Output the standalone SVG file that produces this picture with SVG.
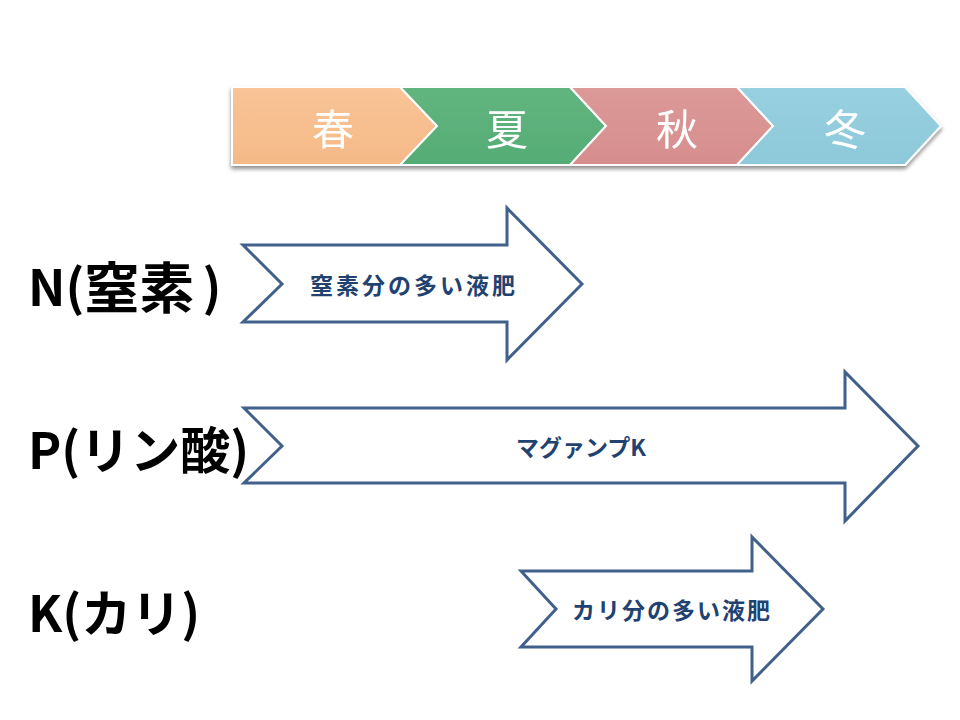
<svg xmlns="http://www.w3.org/2000/svg" width="960" height="720" viewBox="0 0 960 720">
<defs>
<filter id="sh" x="-5%" y="-20%" width="110%" height="150%">
<feGaussianBlur in="SourceAlpha" stdDeviation="2"/>
<feOffset dx="0" dy="3" result="b"/>
<feComponentTransfer><feFuncA type="linear" slope="0.45"/></feComponentTransfer>
<feMerge><feMergeNode/><feMergeNode in="SourceGraphic"/></feMerge>
</filter>
<linearGradient id="g1" x1="0" y1="0" x2="0" y2="1"><stop offset="0" stop-color="#F9C497"/><stop offset="1" stop-color="#F5B987"/></linearGradient>
<linearGradient id="g2" x1="0" y1="0" x2="0" y2="1"><stop offset="0" stop-color="#62B57F"/><stop offset="1" stop-color="#55AC75"/></linearGradient>
<linearGradient id="g3" x1="0" y1="0" x2="0" y2="1"><stop offset="0" stop-color="#DB9998"/><stop offset="1" stop-color="#D68E8D"/></linearGradient>
<linearGradient id="g4" x1="0" y1="0" x2="0" y2="1"><stop offset="0" stop-color="#98D0E0"/><stop offset="1" stop-color="#8DC9DA"/></linearGradient>
<style>
.season{stroke:#fff;stroke-width:2;stroke-linejoin:miter}
.stext{font-family:"Noto Sans CJK JP",sans-serif;font-size:42px;fill:#fff;text-anchor:middle;dominant-baseline:central}
.arrow{fill:#fff;stroke:#41618A;stroke-width:3;stroke-linejoin:miter}
.atext{font-family:"Noto Sans CJK JP",sans-serif;font-weight:bold;font-size:23px;fill:#1F4270;text-anchor:middle;dominant-baseline:central}
.label{font-family:"Noto Sans CJK JP",sans-serif;font-weight:bold;font-size:50px;fill:#000;dominant-baseline:central}
</style>
</defs>
<rect width="960" height="720" fill="#fff"/>
<g id="seasons" filter="url(#sh)">
<g id="spring"><polygon class="season" fill="url(#g1)" points="232,87 400,87 437,126 400,165 232,165"/><text class="stext" x="333" y="126">春</text></g>
<g id="summer"><polygon class="season" fill="url(#g2)" points="400,87 570,87 606,126 570,165 400,165 437,126"/><text class="stext" x="507" y="126">夏</text></g>
<g id="autumn"><polygon class="season" fill="url(#g3)" points="570,87 737,87 773,126 737,165 570,165 606,126"/><text class="stext" x="677" y="126">秋</text></g>
<g id="winter"><polygon class="season" fill="url(#g4)" points="737,87 905,87 941,126 905,165 737,165 773,126"/><text class="stext" x="845" y="126">冬</text></g>
</g>
<g id="label-n"><text class="label" x="28" y="284">N(<tspan font-size="55">窒素</tspan><tspan dx="8">)</tspan></text></g>
<g id="label-p"><text class="label" x="28" y="447">P(リン酸)</text></g>
<g id="label-k"><text class="label" x="28" y="610">K(カリ)</text></g>
<g id="arrow-n"><polygon class="arrow" points="243,245 507,245 507,208 582,284 507,360 507,322 243,322 282,284"/><text class="atext" x="414" y="284" letter-spacing="3">窒素分の多い液肥</text></g>
<g id="arrow-p"><polygon class="arrow" points="244,408 845,408 845,372 918,446 845,521 845,483 244,483 282,446"/><text class="atext" x="581" y="446">マグァンプK</text></g>
<g id="arrow-k"><polygon class="arrow" points="521,571 752,571 752,537 823,609 752,681 752,647 521,647 556,609"/><text class="atext" x="672" y="609" letter-spacing="2">カリ分の多い液肥</text></g>
<g id="connectors"/>
</svg>
